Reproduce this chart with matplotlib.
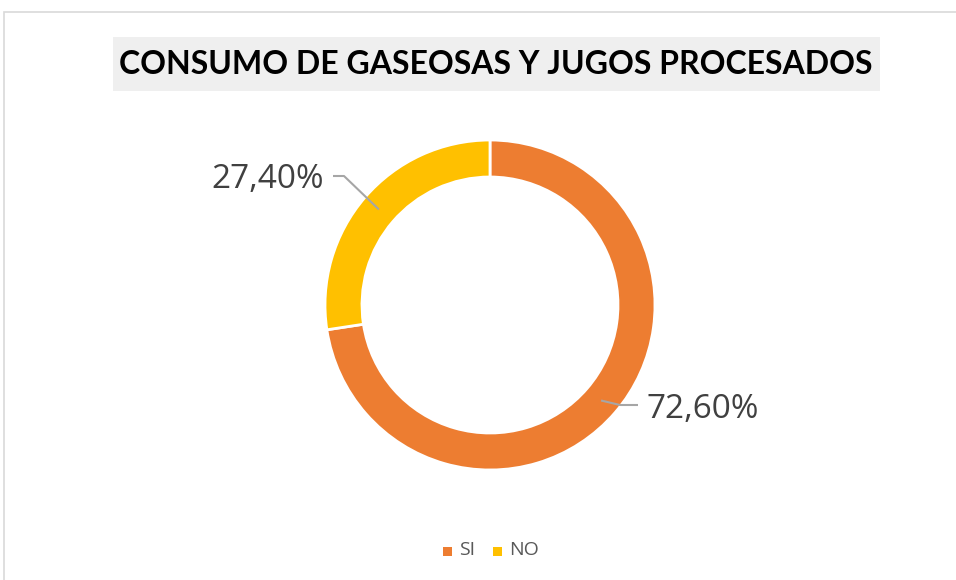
import matplotlib
matplotlib.use("Agg")
import matplotlib.pyplot as plt
from matplotlib.patches import Rectangle
import numpy as np

title = "CONSUMO DE GASEOSAS Y JUGOS PROCESADOS"
categories = ["SI", "NO"]
values = [72.60, 27.40]
labels = ["72,60%", "27,40%"]
colors = ["#ED7D31", "#FFC000"]

W, H = 956, 580
fig = plt.figure(figsize=(W / 100, H / 100), dpi=100)
ax = fig.add_axes([0, 0, 1, 1])

def Y(y):
    return H - y

cx, cy, R, ring = 490, Y(305), 165, 37
wedges, _ = ax.pie(values, colors=colors, startangle=90, counterclock=False,
                   center=(cx, cy), radius=R,
                   wedgeprops=dict(width=ring, edgecolor="white", linewidth=2))
ax.set_xlim(0, W)
ax.set_ylim(0, H)
ax.set_aspect("auto")
ax.axis("off")

# chart border
ax.add_patch(Rectangle((4.5, Y(600)), 1000, 600 - 11.5, fill=False,
                       edgecolor="#D9D9D9", linewidth=1.2))

# title box
ax.add_patch(Rectangle((113, Y(91)), 767, 54, facecolor="#EFEFEF", edgecolor="none"))
ax.text(496, Y(64), title, ha="center", va="center", fontsize=23,
        fontweight="bold", family="Lato", color="black")

# leader lines and labels
mid_r = R - ring / 2
angles = []
start = 90
for v in values:
    a = start - v / 100 * 360 / 2
    angles.append(a)
    start -= v / 100 * 360

label_spec = [
    # (elbow x, elbow y, end x, end y, text x, text y, ha)
    (620, 405, 638, 405, 647, 410, "left"),
    (344, 176, 333, 176, 324, 179, "right"),
]
for ang, lab, spec in zip(angles, labels, label_spec):
    px = cx + mid_r * np.cos(np.radians(ang))
    py = cy + mid_r * np.sin(np.radians(ang))
    ex, ey, tx, ty, lx, ly, ha = spec
    ax.plot([px, ex, tx], [py, Y(ey), Y(ty)], color="#A6A6A6", linewidth=1.5,
            solid_capstyle="butt")
    ax.text(lx, Y(ly), lab, ha=ha, va="center", fontsize=24, family="Open Sans",
            color="#404040")

# legend
lx = 443
for cat, col in zip(categories, colors):
    ax.add_patch(Rectangle((lx, Y(556)), 9, 9, facecolor=col, edgecolor="none"))
    ax.text(lx + 16, Y(550), cat, ha="left", va="center", fontsize=14,
            family="Open Sans", color="#595959")
    lx += 50

fig.savefig("out.png", dpi=100)
